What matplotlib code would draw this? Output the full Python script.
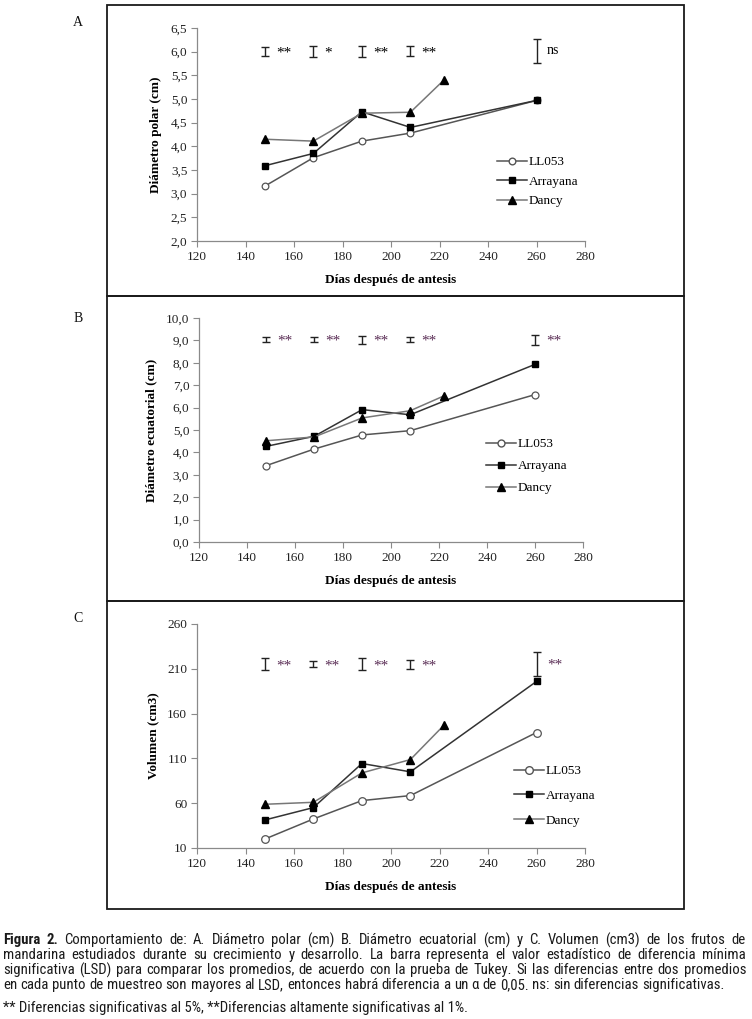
import matplotlib
matplotlib.use('Agg')
import matplotlib.pyplot as plt
import matplotlib.patches as patches
from matplotlib import font_manager
from matplotlib.lines import Line2D
from matplotlib.ticker import FuncFormatter

W, H = 752, 1019
DPI = 100

# days after anthesis
dias = [148, 168, 188, 208, 260]
dias_dancy = [148, 168, 188, 208, 222]
lsd_dias = [148, 168, 188, 208, 260]

# A. polar diameter (cm)
polar_ll053 = [3.16, 3.76, 4.11, 4.28, 4.97]
polar_arrayana = [3.59, 3.85, 4.73, 4.40, 4.97]
polar_dancy = [4.15, 4.11, 4.70, 4.72, 5.41]
polar_lsd_centro = [6.0, 6.0, 6.0, 6.01, 6.02]
polar_lsd = [0.10, 0.12, 0.12, 0.11, 0.25]
polar_sig = ['**', '*', '**', '**', 'ns']
polar_yticks = [2.0, 2.5, 3.0, 3.5, 4.0, 4.5, 5.0, 5.5, 6.0, 6.5]

# B. equatorial diameter (cm)
ecuat_ll053 = [3.41, 4.15, 4.78, 4.97, 6.58]
ecuat_arrayana = [4.27, 4.72, 5.91, 5.68, 7.93]
ecuat_dancy = [4.52, 4.69, 5.54, 5.86, 6.52]
ecuat_lsd_centro = [9.03, 9.03, 9.03, 9.03, 9.03]
ecuat_lsd = [0.10, 0.10, 0.18, 0.11, 0.22]
ecuat_sig = ['**', '**', '**', '**', '**']
ecuat_yticks = [0, 1, 2, 3, 4, 5, 6, 7, 8, 9, 10]

# C. volume (cm3)
vol_ll053 = [20, 42.4, 62.9, 68.5, 138.9]
vol_arrayana = [41.3, 55.1, 104.3, 95.0, 195.9]
vol_dancy = [58.8, 61.0, 93.8, 108.7, 147.5]
vol_lsd_centro = [215.3, 215.3, 215.3, 215.3, 215.7]
vol_lsd = [6.5, 3.7, 6.3, 5.0, 13.4]
vol_sig = ['**', '**', '**', '**', '**']
vol_yticks = [10, 60, 110, 160, 210, 260]

x_ticks = [120, 140, 160, 180, 200, 220, 240, 260, 280]

SERIF = 'Liberation Serif'


def pick_font(names, default='DejaVu Sans'):
    for n in names:
        try:
            font_manager.findfont(font_manager.FontProperties(family=n),
                                  fallback_to_default=False)
            return n
        except Exception:
            pass
    return default


CAP_FONT = pick_font(['Liberation Sans Narrow', 'Roboto Condensed',
                      'Open Sans Condensed', 'Noto Sans'])

fig = plt.figure(figsize=(W / DPI, H / DPI), dpi=DPI)


def px_axes(left, top, right, bottom):
    return fig.add_axes([left / W, 1 - bottom / H, (right - left) / W,
                         (bottom - top) / H])


def comma_fmt(dec):
    def f(v, pos):
        s = ('%.' + str(dec) + 'f') % v
        return s.replace('.', ',')
    return FuncFormatter(f)


def panel(ax, ll, arr, dan, cen, lsd, sig, yticks, dec, ylabel,
          sig_color, leg_pos, leg_sp, ms):
    ax.plot(dias, ll, color='#555555', lw=1.1, marker='o', ms=ms + 0.5,
            mfc='white', mec='#555555', mew=0.9, zorder=3)
    ax.plot(dias, arr, color='#333333', lw=1.1, marker='s', ms=ms,
            mfc='black', mec='black', zorder=3)
    ax.plot(dias_dancy, dan, color='#777777', lw=1.1, marker='^', ms=ms + 1,
            mfc='black', mec='black', zorder=3)

    ax.errorbar(lsd_dias, cen, yerr=lsd, fmt='none', ecolor='#222222',
                elinewidth=1.0, capsize=2.6, capthick=1.0)
    for x, c, s in zip(lsd_dias, cen, sig):
        col = 'black' if s == 'ns' or sig_color is None else sig_color
        if s == 'ns':
            ax.text(x + 4.0, c, s, fontsize=10, family=SERIF, color=col,
                    ha='left', va='center')
        else:
            ax.text(x + 4.5, c, s, fontsize=11, family=SERIF, color=col,
                    ha='left', va='center_baseline')

    ax.set_xlim(120, 280)
    ax.set_ylim(yticks[0], yticks[-1])
    ax.set_xticks(x_ticks)
    ax.set_yticks(yticks)
    ax.yaxis.set_major_formatter(comma_fmt(dec))
    for side in ['top', 'right']:
        ax.spines[side].set_visible(False)
    for side in ['left', 'bottom']:
        ax.spines[side].set_color('#8a8a8a')
        ax.spines[side].set_linewidth(0.9)
    ax.tick_params(direction='out', length=4, width=0.8, color='#8a8a8a',
                   labelsize=9.5, labelcolor='#222222', pad=3)
    for lab in ax.get_xticklabels() + ax.get_yticklabels():
        lab.set_family(SERIF)
    ax.set_xlabel('Días después de antesis', family=SERIF, fontsize=9.5,
                  fontweight='bold', labelpad=8)
    ax.set_ylabel(ylabel, family=SERIF, fontsize=9.5, fontweight='bold',
                  labelpad=6)

    handles = [
        Line2D([], [], color='#555555', lw=1.1, marker='o', ms=ms + 0.5,
               mfc='white', mec='#555555'),
        Line2D([], [], color='#333333', lw=1.1, marker='s', ms=ms,
               mfc='black', mec='black'),
        Line2D([], [], color='#777777', lw=1.1, marker='^', ms=ms + 1,
               mfc='black', mec='black'),
    ]
    ax.legend(handles, ['LL053', 'Arrayana', 'Dancy'], loc='upper left',
              bbox_to_anchor=(leg_pos[0] / W, 1 - leg_pos[1] / H),
              bbox_transform=fig.transFigure, frameon=False,
              prop={'family': SERIF, 'size': 9.5}, handlelength=2.3,
              handletextpad=0.1, labelspacing=leg_sp, borderpad=0,
              borderaxespad=0)


# panel boxes
for top, bottom in [(5, 296), (296, 601), (601, 909)]:
    fig.patches.append(patches.Rectangle(
        (107 / W, 1 - bottom / H), (684 - 107) / W, (bottom - top) / H,
        transform=fig.transFigure, fill=False, ec='#1a1a1a', lw=1.3))

for lab, y in [('A', 23), ('B', 319), ('C', 619)]:
    fig.text(78 / W, 1 - y / H, lab, family=SERIF, fontsize=10,
             ha='center', va='center', color='#111111')

axA = px_axes(197, 28, 585, 241)
panel(axA, polar_ll053, polar_arrayana, polar_dancy, polar_lsd_centro,
      polar_lsd, polar_sig, polar_yticks, 1, 'Diámetro polar (cm)',
      None, (497, 156), 0.55, 4.3)

axB = px_axes(199, 318, 583, 542)
panel(axB, ecuat_ll053, ecuat_arrayana, ecuat_dancy, ecuat_lsd_centro,
      ecuat_lsd, ecuat_sig, ecuat_yticks, 1, 'Diámetro ecuatorial (cm)',
      '#5a2d55', (486, 438), 0.75, 4.5)

axC = px_axes(197, 624, 585, 848)
panel(axC, vol_ll053, vol_arrayana, vol_dancy, vol_lsd_centro,
      vol_lsd, vol_sig, vol_yticks, 0, 'Volumen (cm3)',
      '#5a2d55', (514, 765), 0.95, 5.0)

# caption, justified line by line
caption = [
    'Figura 2. Comportamiento de: A. Diámetro polar (cm) B. Diámetro ecuatorial (cm) y C. Volumen (cm3) de los frutos de',
    'mandarina estudiados durante su crecimiento y desarrollo. La barra representa el valor estadístico de diferencia mínima',
    'significativa (LSD) para comparar los promedios, de acuerdo con la prueba de Tukey. Si las diferencias entre dos promedios',
    'en cada punto de muestreo son mayores al LSD, entonces habrá diferencia a un α de 0,05. ns: sin diferencias significativas.',
]
nota = '** Diferencias significativas al 5%, **Diferencias altamente significativas al 1%.'

CAP_SIZE = 10.6
renderer = fig.canvas.get_renderer()
x0, x1 = 3, 746
line_y = [940, 955, 970, 985]

probe1 = fig.text(0, 0, 'a a', family=CAP_FONT, fontsize=CAP_SIZE)
probe2 = fig.text(0, 0, 'aa', family=CAP_FONT, fontsize=CAP_SIZE)
sp = probe1.get_window_extent(renderer).width - \
    probe2.get_window_extent(renderer).width
probe1.remove()
probe2.remove()

for i, (line, y) in enumerate(zip(caption, line_y)):
    words = line.split(' ')
    texts = []
    for j, w in enumerate(words):
        bold = (i == 0 and j < 2)
        t = fig.text(0, 1 - y / H, w, family=CAP_FONT, fontsize=CAP_SIZE,
                     fontweight='bold' if bold else 'normal',
                     color='#1a1a1a', ha='left', va='center')
        texts.append(t)
    widths = [t.get_window_extent(renderer).width for t in texts]
    if i < 3:
        gap = (x1 - x0 - sum(widths)) / (len(words) - 1)
    else:
        gap = sp
    x = x0
    for t, w in zip(texts, widths):
        t.set_x(x / W)
        x += w + gap

fig.text(x0 / W, 1 - 1008 / H, nota, family=CAP_FONT, fontsize=CAP_SIZE,
         color='#1a1a1a', ha='left', va='center')

fig.savefig('out.png', dpi=DPI)
